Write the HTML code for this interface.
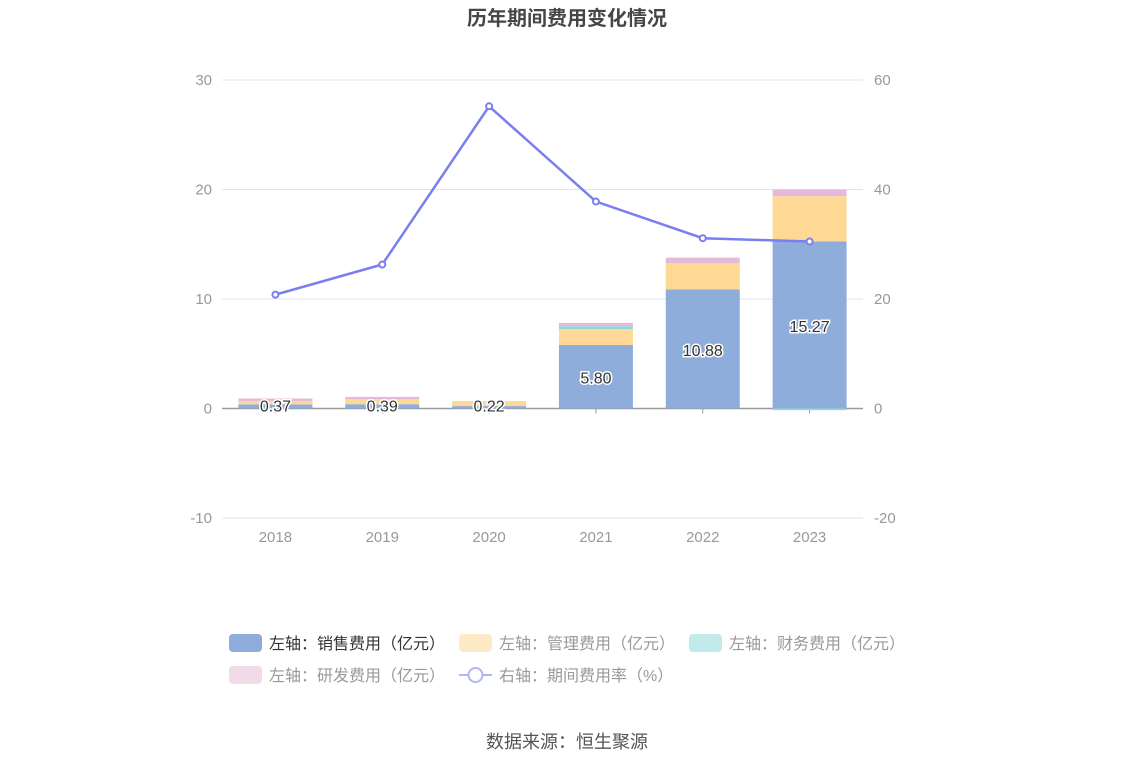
<!DOCTYPE html>
<html><head><meta charset="utf-8"><style>
body{margin:0;background:#fff;width:1134px;height:766px;overflow:hidden;font-family:"Liberation Sans","Noto Sans CJK SC",sans-serif;}
svg text{font-family:"Liberation Sans","Noto Sans CJK SC",sans-serif;}
</style></head><body>
<svg id="chart" width="1134" height="766" xmlns="http://www.w3.org/2000/svg">
<text x="567" y="25" text-anchor="middle" font-size="20" font-weight="bold" fill="#464646">历年期间费用变化情况</text>
<g id="grid"></g><g id="bars"></g><g id="line"></g><g id="labels"></g>
<g id="legend"></g>
<text x="567" y="748" text-anchor="middle" font-size="18" fill="#555">数据来源：恒生聚源</text>
</svg>
<script>
const categories=["2018","2019","2020","2021","2022","2023"];
const sales=[0.37,0.39,0.22,5.80,10.88,15.27];
const mgmt=[0.30,0.45,0.42,1.44,2.39,4.12];
const finance=[0.02,0.02,0.01,0.27,0.02,-0.15];
const rnd=[0.22,0.20,0.02,0.31,0.49,0.61];
const rate=[20.8,26.3,55.2,37.8,31.1,30.5];
const leftTicks=[-10,0,10,20,30];
const rightTicks=[-20,0,20,40,60];
const NS="http://www.w3.org/2000/svg";
const X0=222,X1=863,Y30=80,Ym10=518;
const yL=v=>Y30+(30-v)*(Ym10-Y30)/40;
const yR=v=>Y30+(60-v)*(Ym10-Y30)/80;
const bw=(X1-X0)/categories.length;
const xC=i=>X0+bw*(i+0.5);
function mk(tag,attrs,parent,txt){const e=document.createElementNS(NS,tag);for(const k in attrs)e.setAttribute(k,attrs[k]);if(txt!==undefined)e.textContent=txt;document.getElementById(parent).appendChild(e);return e;}
leftTicks.forEach((t,i)=>{
 const y=yL(t);
 if(t!==0){const g=mk('line',{x1:X0,x2:X1,y1:y,y2:y,stroke:'#e0e3f5','stroke-width':1},'grid');
 
 }
 const l=mk('text',{x:212,y:y+5,'text-anchor':'end','font-size':15,fill:'#999'},'grid',t);
 
 
 const r=mk('text',{x:874,y:yR(rightTicks[i])+5,'font-size':15,fill:'#999'},'grid',rightTicks[i]);
 
 
});
const series=[[sales,'#8eaddb','sales'],[mgmt,'#fed996','management'],[finance,'#8ed8d8','finance'],[rnd,'#e6b9da','rnd']];
const W=74;
categories.forEach((c,i)=>{
 let pos=0,neg=0;
 series.forEach(([arr,col,nm])=>{
  const v=arr[i];let y0,y1;
  if(v>=0){y0=yL(pos+v);y1=yL(pos);pos+=v;}else{y0=yL(neg);y1=yL(neg+v);neg+=v;}
  const r=mk('rect',{x:xC(i)-W/2,y:y0,width:W,height:Math.max(y1-y0,0),fill:col},'bars');
  
  
 });
 const tk=mk('line',{x1:xC(i),x2:xC(i),y1:yL(0),y2:yL(0)+5,stroke:'#999'},'grid');
 
 
 const xl=mk('text',{x:xC(i),y:542,'text-anchor':'middle','font-size':15,fill:'#999'},'grid',c);
 
 
 const ly=sales[i]>2?(yL(sales[i])+yL(0))/2+7:yL(0)+3;
 const vl=mk('text',{x:xC(i),y:ly,'text-anchor':'middle','font-size':16,fill:'#333',stroke:'#fff','stroke-width':3,'paint-order':'stroke'},'labels',sales[i].toFixed(2));
 
 
});
const ax=mk('line',{x1:X0,x2:X1,y1:yL(0),y2:yL(0),stroke:'#999','stroke-width':1.5},'grid');


const pl=mk('polyline',{points:rate.map((v,i)=>xC(i)+','+yR(v)).join(' '),fill:'none',stroke:'#7b7ef0','stroke-width':2.5},'line');


rate.forEach((v,i)=>{
 const p=mk('circle',{cx:xC(i),cy:yR(v),r:3,fill:'#fff',stroke:'#7b7ef0','stroke-width':2},'line');
 
 
});
const legendItems=[['左轴：销售费用（亿元）','#8eaddb',229,643,'#333'],['左轴：管理费用（亿元）','#fdebc8',459,643,'#999'],['左轴：财务费用（亿元）','#c3eaea',689,643,'#999'],['左轴：研发费用（亿元）','#f2dbe9',229,675,'#999'],['右轴：期间费用率（%）',null,459,675,'#999']];
legendItems.forEach(([t,col,x,y,tc])=>{
 if(col){const r=mk('rect',{x:x,y:y-9,width:33,height:18,rx:4,fill:col},'legend');
 
 }
 else{mk('line',{x1:x,x2:x+33,y1:y,y2:y,stroke:'#b3b5f5','stroke-width':2},'legend');
 const c=mk('circle',{cx:x+16.5,cy:y,r:7,fill:'#fff',stroke:'#b3b5f5','stroke-width':2},'legend');
 
 }
 const tx=mk('text',{x:x+40,y:y+6,'font-size':16,fill:tc},'legend',t);
 
 
});
</script>
</body></html>
